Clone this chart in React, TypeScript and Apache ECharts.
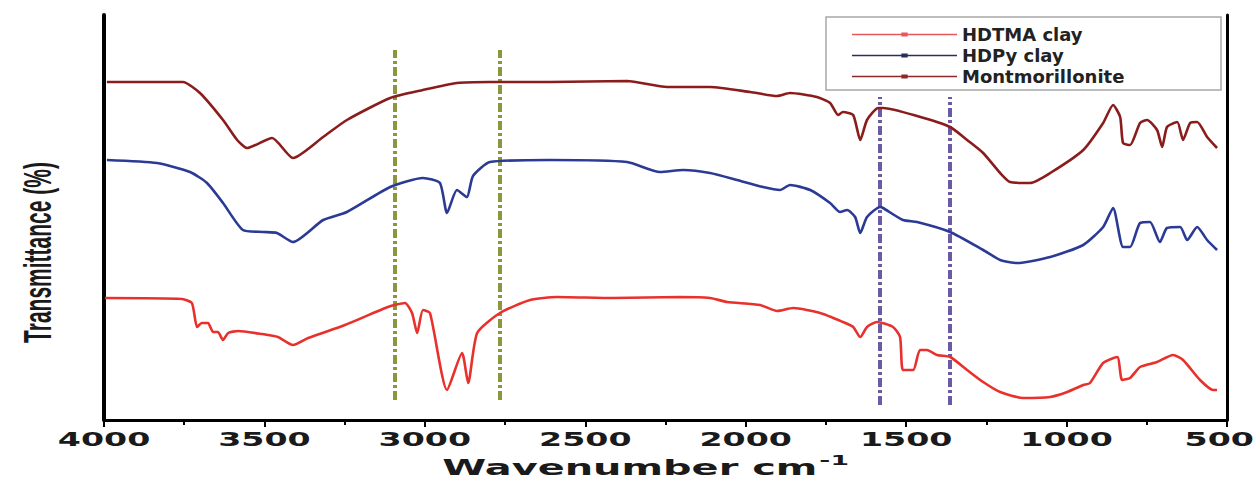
import React, { useEffect, useRef } from "react";
import * as echarts from "echarts";

// Wavenumber (cm-1) vs relative transmittance (arbitrary offset units)
const montmorillonite: number[][] = [
  [3991, 338], [3754, 338], [3701, 327], [3629, 300], [3585, 280], [3554, 272], [3476, 282], [3411, 262],
  [3317, 283], [3243, 300], [3108, 322], [3006, 330], [2900, 337], [2797, 338], [2610, 338], [2370, 339],
  [2245, 333], [2111, 333], [1986, 328], [1902, 324], [1862, 327], [1778, 323], [1737, 317], [1712, 305],
  [1697, 308], [1665, 305], [1643, 280], [1622, 300], [1587, 312], [1572, 312], [1466, 304], [1363, 293],
  [1310, 280], [1260, 267], [1207, 247], [1176, 238], [1114, 237], [1051, 247], [948, 270], [886, 297],
  [855, 315], [833, 303], [824, 277], [802, 275], [771, 297], [749, 300], [718, 290], [702, 273],
  [687, 293], [655, 298], [637, 280], [615, 297], [593, 298], [562, 283], [531, 272],
];

const hdpyClay: number[][] = [
  [3991, 260], [3835, 257], [3732, 248], [3679, 237], [3629, 217], [3567, 190], [3504, 188], [3461, 187],
  [3411, 178], [3317, 200], [3243, 208], [3108, 233], [3006, 242], [2953, 237], [2931, 207], [2900, 230],
  [2869, 223], [2850, 244], [2797, 258], [2610, 260], [2370, 258], [2267, 248], [2195, 250], [2111, 247],
  [2027, 240], [1946, 233], [1893, 230], [1862, 235], [1799, 230], [1737, 217], [1706, 208], [1684, 210],
  [1659, 203], [1643, 187], [1622, 203], [1581, 213], [1572, 212], [1510, 200], [1466, 198], [1363, 188],
  [1260, 170], [1207, 160], [1154, 157], [1051, 163], [948, 175], [886, 193], [855, 212], [824, 173],
  [802, 173], [771, 197], [740, 198], [709, 178], [687, 192], [646, 193], [624, 180], [593, 193],
  [562, 180], [531, 170],
];

const hdtmaClay: number[][] = [
  [3997, 122], [3757, 121], [3726, 117], [3710, 93], [3695, 97], [3676, 97], [3660, 88], [3645, 88],
  [3629, 80], [3613, 87], [3582, 89], [3508, 86], [3458, 83], [3411, 75], [3364, 82], [3249, 95],
  [3115, 113], [3062, 117], [3040, 107], [3024, 87], [3006, 110], [2984, 107], [2931, 30], [2884, 67],
  [2865, 37], [2837, 87], [2766, 107], [2672, 120], [2588, 123], [2413, 122], [2205, 123], [2111, 122],
  [2058, 118], [1955, 115], [1902, 109], [1852, 112], [1768, 107], [1697, 98], [1665, 93], [1643, 83],
  [1622, 93], [1591, 98], [1541, 93], [1519, 83], [1510, 50], [1478, 50], [1457, 70], [1435, 70],
  [1404, 65], [1363, 63], [1310, 50], [1260, 38], [1207, 28], [1135, 22], [1051, 23], [998, 28],
  [948, 35], [927, 37], [886, 57], [842, 63], [827, 40], [802, 42], [771, 53], [718, 58],
  [668, 65], [637, 60], [584, 40], [543, 30], [531, 30],
];

const seriesNames = ["HDTMA clay", "HDPy clay", "Montmorillonite"];
const seriesColors = ["#e8302c", "#2b3a94", "#8a1c1c"];
const legendColors = ["#e8585a", "#2a2f5a", "#8a2a2a"];

// vertical guide lines: [wavenumber, from, to]
const oliveGuides: number[][] = [[3093, 20, 370], [2766, 20, 370]];
const purpleGuides: number[][] = [[1581, 15, 323], [1363, 15, 323]];

const xTickMin = 500;
const xTickMax = 4000;
const xTickStep = 500;
const xTickLabels = [4000, 3500, 3000, 2500, 2000, 1500, 1000, 500];

const xTitle = "Wavenumber cm";
const xTitleSup = "-1";
const yTitle = "Transmittance (%)";

const legendIcon =
  "path://M0,4.4 L100,4.4 L100,5.6 L0,5.6 Z M47,3.2 L53,3.2 L53,6.8 L47,6.8 Z";

export default function App() {
  const ref = useRef<HTMLDivElement>(null);

  useEffect(() => {
    if (!ref.current) return;
    const chart = echarts.init(ref.current, undefined, { renderer: "svg" });

    const guideLine = (g: number[], color: string) => [
      { coord: [g[0], g[1]], lineStyle: { color, width: 4, type: [9, 3, 3, 3] } },
      { coord: [g[0], g[2]] },
    ];

    const datasets = [hdtmaClay, hdpyClay, montmorillonite];
    const legendText = {
      fontFamily: "DejaVu Sans",
      fontWeight: "bold",
      fontSize: 18,
      color: "#222222",
      lineHeight: 21,
      width: 253,
    };

    const option: any = {
      animation: false,
      backgroundColor: "#ffffff",
      grid: { left: 104, right: 29, top: 15, bottom: 69, containLabel: false },
      legend: {
        orient: "vertical",
        left: 826,
        top: 17,
        padding: [7, 6, 3, 26],
        itemGap: 0,
        itemWidth: 105,
        itemHeight: 10,
        borderColor: "#a8a8a8",
        borderWidth: 1.5,
        backgroundColor: "#ffffff",
        data: seriesNames.map((n, i) => ({
          name: n,
          icon: legendIcon,
          itemStyle: { color: legendColors[i] },
          textStyle: { ...legendText },
        })),
        textStyle: legendText,
      },
      xAxis: {
        type: "value",
        inverse: true,
        min: xTickMin,
        max: xTickMax,
        interval: xTickStep,
        axisLine: { show: true, lineStyle: { color: "#000", width: 3 } },
        axisTick: { show: true, inside: false, length: 7, lineStyle: { color: "#000", width: 2 } },
        minorTick: { show: true, splitNumber: 2, length: 5, lineStyle: { color: "#000", width: 2 } },
        splitLine: { show: false },
        axisLabel: { show: false },
      },
      yAxis: [
        {
          type: "value",
          min: 0,
          max: 405,
          position: "left",
          axisLine: { show: true, onZero: false, lineStyle: { color: "#000", width: 4 } },
          axisTick: { show: false },
          axisLabel: { show: false },
          splitLine: { show: false },
        },
        {
          type: "value",
          min: 0,
          max: 405,
          position: "right",
          axisLine: { show: true, onZero: false, lineStyle: { color: "#000", width: 3 } },
          axisTick: { show: false },
          axisLabel: { show: false },
          splitLine: { show: false },
        },
      ],
      series: datasets.map((d, i) => ({
        name: seriesNames[i],
        type: "line",
        data: d,
        symbol: "none",
        smooth: 0.2,
        lineStyle: { color: seriesColors[i], width: 2.6 },
        itemStyle: { color: seriesColors[i] },
        z: 3,
        markLine:
          i === 0
            ? {
                silent: true,
                symbol: "none",
                label: { show: false },
                z: 1,
                data: [
                  ...oliveGuides.map((g) => guideLine(g, "#8c963a")),
                  ...purpleGuides.map((g) => guideLine(g, "#6b5aa6")),
                ],
              }
            : undefined,
      })),
    };

    chart.setOption(option);

    // Tick labels placed through the axis scale, stretched horizontally like the source figure
    const labelScale = 1.75;
    const labelSize = 19;
    const axisY = chart.convertToPixel({ yAxisIndex: 0 }, 0) as number;
    const tickGraphics = xTickLabels.map((v) => {
      const px = chart.convertToPixel({ xAxisIndex: 0 }, v) as number;
      const half = (String(v).length * 0.696 * labelSize * labelScale) / 2;
      const x = Math.min(px, 1254 - half);
      return {
        type: "text",
        x,
        y: axisY + 19,
        scaleX: labelScale,
        style: {
          text: String(v),
          fontFamily: "DejaVu Sans",
          fontWeight: "bold",
          fontSize: labelSize,
          fill: "#1a1a1a",
          textAlign: "center",
          textVerticalAlign: "middle",
        },
      };
    });
    const leftX = chart.convertToPixel({ xAxisIndex: 0 }, xTickMax) as number;
    const rightX = chart.convertToPixel({ xAxisIndex: 0 }, xTickMin) as number;
    const topY = chart.convertToPixel({ yAxisIndex: 0 }, 405) as number;

    chart.setOption({
      graphic: [
        ...tickGraphics,
        {
          type: "text",
          x: (leftX + rightX) / 2 - 20,
          y: axisY + 48,
          scaleX: 1.9,
          style: {
            text: "{a|" + xTitle + "}{b|" + xTitleSup + "}",
            textAlign: "center",
            textVerticalAlign: "middle",
            rich: {
              a: { fontFamily: "DejaVu Sans", fontWeight: "bold", fontSize: 21, fill: "#1a1a1a", lineHeight: 26 },
              b: { fontFamily: "DejaVu Sans", fontWeight: "bold", fontSize: 14, fill: "#1a1a1a", lineHeight: 26, padding: [0, 0, 16, 1] },
            },
          },
        },
        {
          type: "text",
          x: 38,
          y: (axisY + topY) / 2 + 35,
          rotation: Math.PI / 2,
          scaleY: 1.85,
          style: {
            text: yTitle,
            fontFamily: "Liberation Sans Narrow, Liberation Sans, Arial",
            fontWeight: "bold",
            fontSize: 21,
            fill: "#1a1a1a",
            textAlign: "center",
            textVerticalAlign: "middle",
          },
        },
      ],
    });

    return () => chart.dispose();
  }, []);

  return (
    <div
      ref={ref}
      style={{ position: "fixed", left: 0, top: 0, width: 1256, height: 489 }}
    />
  );
}
